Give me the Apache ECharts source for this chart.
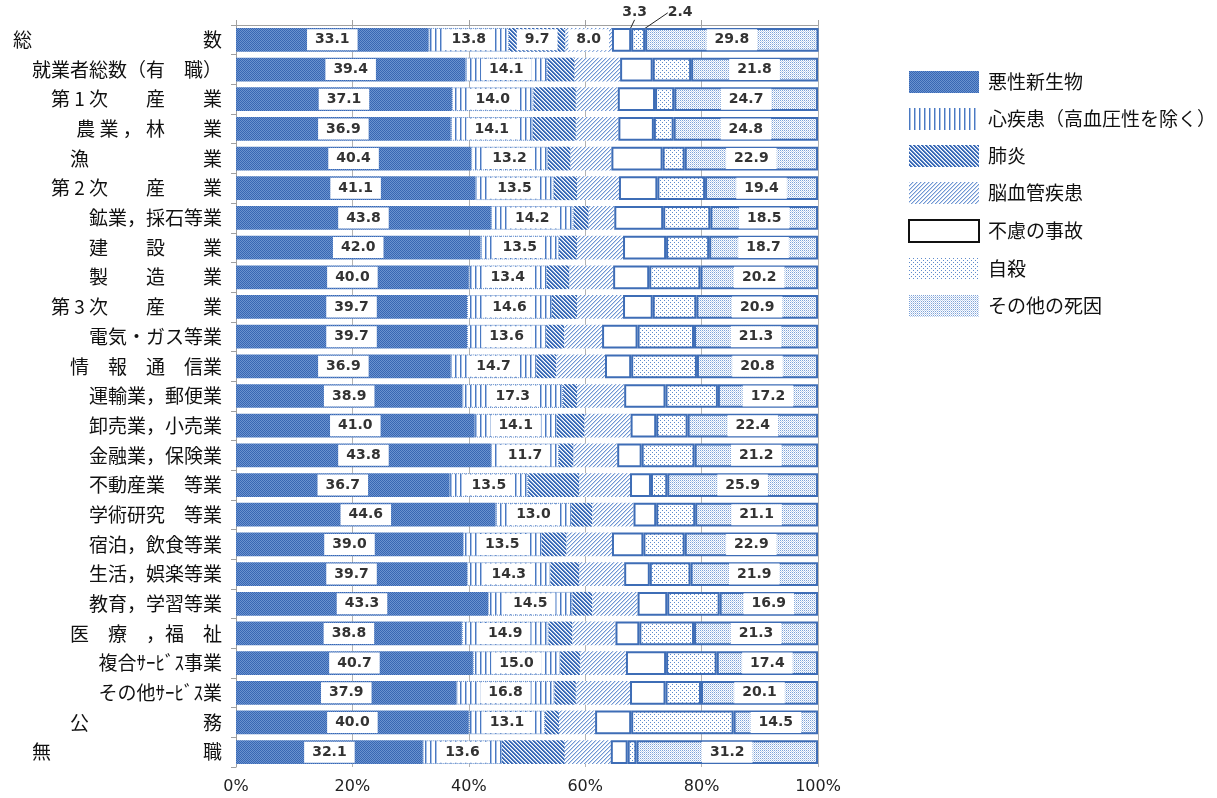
<!DOCTYPE html>
<html><head><meta charset="utf-8">
<script src="https://cdn.jsdelivr.net/npm/echarts@6/dist/echarts.min.js"></script>
<style>html,body{margin:0;padding:0;background:#fff}#c{width:1217px;height:798px}</style>
</head><body><div id="c"></div>
<script>
const categories = [
  '総　　　　　　　　　数',
  '就業者総数（有　職）',
  '第 1 次　　産　　業',
  '農 業 ， 林　　業',
  '漁　　　　　　業',
  '第 2 次　　産　　業',
  '鉱業，採石等業',
  '建　　設　　業',
  '製　　造　　業',
  '第 3 次　　産　　業',
  '電気・ガス等業',
  '情　報　通　信業',
  '運輸業，郵便業',
  '卸売業，小売業',
  '金融業，保険業',
  '不動産業　等業',
  '学術研究　等業',
  '宿泊，飲食等業',
  '生活，娯楽等業',
  '教育，学習等業',
  '医　療　，福　祉',
  '複合ｻｰﾋﾞｽ事業',
  'その他ｻｰﾋﾞｽ業',
  '公　　　　　　務',
  '無　　　　　　　　職'
];
const seriesNames = ['悪性新生物','心疾患（高血圧性を除く）','肺炎','脳血管疾患','不慮の事故','自殺','その他の死因'];
const cancer    = [33.1,39.4,37.1,36.9,40.4,41.1,43.8,42.0,40.0,39.7,39.7,36.9,38.9,41.0,43.8,36.7,44.6,39.0,39.7,43.3,38.8,40.7,37.9,40.0,32.1];
const heart     = [13.8,14.1,14.0,14.1,13.2,13.5,14.2,13.5,13.4,14.6,13.6,14.7,17.3,14.1,11.7,13.5,13.0,13.5,14.3,14.5,14.9,15.0,16.8,13.1,13.6];
const pneumonia = [9.7,4.7,7.3,7.4,3.9,4.0,2.6,3.1,3.9,4.3,3.1,3.4,2.4,4.8,2.5,8.8,3.6,4.3,5.0,3.4,4.1,3.4,3.7,2.4,10.8];
const cerebro   = [8.0,7.8,7.2,7.3,7.0,7.2,4.4,7.9,7.5,7.9,6.5,8.4,8.1,7.9,7.5,8.7,7.1,7.8,7.7,7.8,7.4,7.9,9.3,6.2,7.9];
const accident  = [3.3,5.6,6.4,6.1,8.8,6.6,8.4,7.4,6.2,5.1,6.1,4.5,7.1,4.4,4.2,3.6,3.9,5.4,4.4,5.1,4.1,6.9,6.1,6.2,2.9];
const suicide   = [2.4,6.6,3.3,3.4,3.8,8.2,8.1,7.4,8.8,7.5,9.7,11.3,9.0,5.4,9.1,2.8,6.7,7.1,7.0,9.0,9.4,8.7,6.1,17.6,1.5];
const other     = [29.8,21.8,24.7,24.8,22.9,19.4,18.5,18.7,20.2,20.9,21.3,20.8,17.2,22.4,21.2,25.9,21.1,22.9,21.9,16.9,21.3,17.4,20.1,14.5,31.2];
const xTicks = [0,20,40,60,80,100];

function pat(w,h,draw){
  const c=document.createElement('canvas');c.width=w;c.height=h;
  const g=c.getContext('2d');g.fillStyle='#fff';g.fillRect(0,0,w,h);draw(g);
  return {image:c,repeat:'repeat'};
}
function px(g,x,y,col){g.fillStyle=col;g.fillRect(x,y,1,1);}
const P = [
  pat(2,2,g=>{px(g,0,0,'#3867b3');px(g,1,1,'#3867b3');px(g,1,0,'#6a92cf');px(g,0,1,'#6a92cf');}),
  pat(5,4,g=>{g.fillStyle='#4a79c2';g.fillRect(0,0,1,4);g.fillStyle='#a9c1e6';g.fillRect(1,0,1,4);}),
  pat(4,4,g=>{for(let y=0;y<4;y++){px(g,y,y,'#3a6ab5');px(g,(y+1)%4,y,'#3a6ab5');px(g,(y+2)%4,y,'#a8c0e6');}}),
  pat(4,4,g=>{for(let y=0;y<4;y++){px(g,3-y,y,'#6f96d2');px(g,(4-y)%4,y,'#c6d6ef');}}),
  pat(2,2,g=>{}),
  pat(4,4,g=>{px(g,0,0,'#5f8bcc');px(g,2,2,'#5f8bcc');}),
  pat(2,2,g=>{px(g,0,0,'#7ea3d9');px(g,1,1,'#c3d4ee');})
];
const borders = [
  {borderWidth:0},
  {borderWidth:1,borderColor:'#5a86c8',borderType:'dotted'},
  {borderWidth:0},
  {borderWidth:0},
  {borderWidth:2,borderColor:'#3e6db6'},
  {borderWidth:2,borderColor:'#3e6db6'},
  {borderWidth:2,borderColor:'#3e6db6'}
];
const fmt = p => Number(p.value).toFixed(1);
const boxLabel = {show:true,position:'inside',color:'#333',fontFamily:'DejaVu Sans',fontWeight:'bold',fontSize:14,backgroundColor:'#fff',padding:[4,8,3,8],formatter:fmt};
const values = [cancer,heart,pneumonia,cerebro,accident,suicide,other];
const layouts = [null,null,null,null,{dx:13,dy:-27},{dx:42,dy:-27},null];
const series = values.map((arr,si)=>{
  const always = (si===0||si===1||si===6);
  const s = {
    name: seriesNames[si], type:'bar', stack:'total', barCategoryGap:'20%',
    itemStyle: Object.assign({color:P[si]}, borders[si]),
    emphasis:{disabled:true},
    label: always ? boxLabel : {show:false},
    data: arr.map((v,i)=>{
      if(always || i!==0) return v;
      if(si===2||si===3) return {value:v,label:boxLabel};
      return {value:v,label:{show:true,position:'inside',color:'#333',fontFamily:'DejaVu Sans',fontWeight:'bold',fontSize:14,formatter:fmt}};
    })
  };
  if(layouts[si]){
    s.labelLayout = layouts[si];
    s.labelLine = {show:true,lineStyle:{color:'#222',width:1}};
  }
  return s;
});
const legendData = seriesNames.map((n,i)=>{
  if(i===4) return {name:n,itemStyle:{borderColor:'#111',borderWidth:2}};
  return {name:n,itemStyle:{borderWidth:0}};
});
const chart = echarts.init(document.getElementById('c'),null,{renderer:'canvas'});
chart.setOption({
  backgroundColor:'#fff',
  animation:false,
  grid:{left:236,right:399,top:25,bottom:31,containLabel:false},
  legend:{orient:'vertical',left:903,top:66,icon:'rect',itemWidth:70,itemHeight:22,itemGap:15,
    data:legendData,selectedMode:false,
    textStyle:{fontSize:19,fontFamily:'Noto Sans CJK JP',color:'#111',padding:[0,0,0,4]}},
  xAxis:[
    {type:'value',min:xTicks[0],max:xTicks[xTicks.length-1],interval:xTicks[1]-xTicks[0],position:'bottom',
     axisLine:{show:false},axisTick:{show:false},
     axisLabel:{formatter:'{value}%',fontSize:16,fontFamily:'DejaVu Sans',color:'#222',margin:12},
     splitLine:{show:true,lineStyle:{color:'#b3b3b3',width:1}}},
    {type:'value',min:xTicks[0],max:xTicks[xTicks.length-1],interval:xTicks[1]-xTicks[0],position:'top',
     axisLine:{show:true,lineStyle:{color:'#a0a0a0'}},axisTick:{show:true,length:5,lineStyle:{color:'#a0a0a0'}},
     axisLabel:{show:false},splitLine:{show:false}}
  ],
  yAxis:{type:'category',data:categories,inverse:true,
    axisLine:{show:true,lineStyle:{color:'#a0a0a0'}},
    axisTick:{show:true,length:5,lineStyle:{color:'#a0a0a0'}},
    axisLabel:{fontSize:19,fontFamily:'Noto Sans CJK JP',color:'#111',margin:14}},
  series: series
});
</script></body></html>
